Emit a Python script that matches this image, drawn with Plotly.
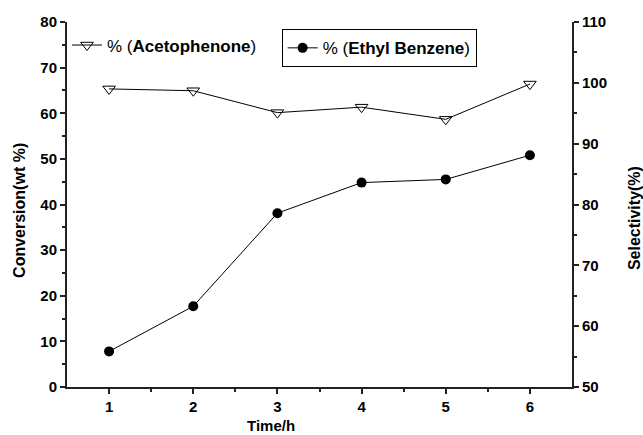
import plotly.graph_objects as go

# Reaction time (h)
time_h = [1, 2, 3, 4, 5, 6]
# Ethyl benzene conversion (wt %) - left axis
conversion_eb = [7.8, 17.7, 38.1, 44.8, 45.5, 50.8]
# Acetophenone selectivity (%) - right axis
selectivity_acp = [99.0, 98.7, 95.1, 96.0, 94.0, 99.8]

x_ticks = [1, 2, 3, 4, 5, 6]
left_ticks = [0, 10, 20, 30, 40, 50, 60, 70, 80]
right_ticks = [50, 60, 70, 80, 90, 100, 110]

FONT = "Liberation Sans, Arial, sans-serif"
AX = "#222222"

fig = go.Figure()

fig.add_trace(go.Scatter(
    x=time_h, y=selectivity_acp, yaxis="y2",
    mode="lines+markers",
    name="% (<b>Acetophenone</b>)",
    line=dict(color="black", width=1),
    marker=dict(symbol="triangle-down-open", size=11, color="black",
                line=dict(width=1, color="black")),
    legend="legend", showlegend=True,
))

fig.add_trace(go.Scatter(
    x=time_h, y=conversion_eb, yaxis="y",
    mode="lines+markers",
    name="% (<b>Ethyl Benzene</b>)",
    line=dict(color="black", width=1),
    marker=dict(symbol="circle", size=10, color="black"),
    legend="legend2", showlegend=True,
))

axis_common = dict(
    showline=True, linecolor=AX, linewidth=2,
    ticks="outside", ticklen=5, tickwidth=2, tickcolor=AX,
    showgrid=False, zeroline=False,
    tickfont=dict(family=FONT, size=15, color="black", weight="bold"),
)

fig.update_layout(
    width=643, height=435,
    showlegend=True,
    margin=dict(l=67, r=71, t=22, b=48),
    paper_bgcolor="white", plot_bgcolor="white",
    font=dict(family=FONT, color="black"),
    xaxis=dict(
        range=[0.5, 6.5], tickvals=x_ticks,
        minor=dict(tickvals=[1.5, 2.5, 3.5, 4.5, 5.5], ticks="outside",
                   ticklen=3, tickwidth=2, tickcolor=AX),
        **axis_common,
    ),
    yaxis=dict(
        range=[0, 80], tickvals=left_ticks,
        minor=dict(dtick=5, ticks="outside", ticklen=3, tickwidth=2, tickcolor=AX),
        **axis_common,
    ),
    yaxis2=dict(
        range=[50, 110], tickvals=right_ticks, overlaying="y", side="right",
        minor=dict(dtick=5, ticks="outside", ticklen=3, tickwidth=2, tickcolor=AX),
        **axis_common,
    ),
    legend=dict(
        x=0.0, y=0.985, xanchor="left", yanchor="top",
        bgcolor="rgba(0,0,0,0)", borderwidth=0, visible=True,
        font=dict(family=FONT, size=17, color="black"),
    ),
    legend2=dict(
        x=0.425, y=0.98, xanchor="left", yanchor="top",
        bgcolor="white", bordercolor="black", borderwidth=1, visible=True,
        font=dict(family=FONT, size=17, color="black"),
    ),
    annotations=[
        dict(text="<b>Time/h</b>", xref="paper", yref="paper",
             x=(271 - 67) / 504, y=-(426 - 387) / 365,
             xanchor="center", yanchor="middle", showarrow=False,
             font=dict(family=FONT, size=15, color="black")),
        dict(text="<b>Conversion(wt %)</b>", xref="paper", yref="paper",
             x=-(67 - 19) / 504, y=(387 - 210) / 365, textangle=-90,
             xanchor="center", yanchor="middle", showarrow=False,
             font=dict(family=FONT, size=16, color="black")),
        dict(text="<b>Selectivity(%)</b>", xref="paper", yref="paper",
             x=1 + (633 - 571) / 504, y=(387 - 218) / 365, textangle=-90,
             xanchor="center", yanchor="middle", showarrow=False,
             font=dict(family=FONT, size=16, color="black")),
    ],
)

fig.write_html("out.html")
